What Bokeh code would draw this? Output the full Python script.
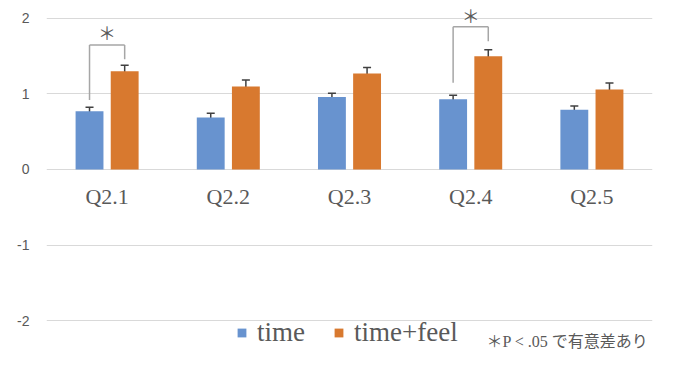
from bokeh.plotting import figure
from bokeh.models import (ColumnDataSource, FactorRange, Range1d, Whisker, TeeHead,
                          Legend, LegendItem, Label, FixedTicker)
from bokeh.transform import dodge
from bokeh.core.properties import value
from bokeh.embed import file_html
from bokeh.resources import INLINE

# ---- data ----
categories = ["Q2.1", "Q2.2", "Q2.3", "Q2.4", "Q2.5"]
time_mean = [0.77, 0.69, 0.96, 0.93, 0.79]
time_err = [0.055, 0.055, 0.05, 0.055, 0.05]
feel_mean = [1.30, 1.10, 1.27, 1.50, 1.06]
feel_err = [0.08, 0.085, 0.08, 0.085, 0.085]
y_ticks = [-2, -1, 0, 1, 2]
y_tick_labels = ["-2", "-1", "0", "1", "2"]

# significance annotations
sig_cats = ["Q2.1", "Q2.4"]
sig_top = [1.65, 1.89]
sig_left_bottom = [0.92, 1.15]
sig_right_bottom = [1.46, 1.70]
sig_star_y = [1.82, 2.04]
footnote = "＊P < .05 で有意差あり"

BLUE = "#6893cf"
ORANGE = "#d8792f"
GRAY_TXT = "#595959"
OFF = 0.145
BW = 0.23

src = ColumnDataSource(dict(
    cat=categories,
    t=time_mean, f=feel_mean,
    t_up=[m + e for m, e in zip(time_mean, time_err)],
    t_lo=[m - e for m, e in zip(time_mean, time_err)],
    f_up=[m + e for m, e in zip(feel_mean, feel_err)],
    f_lo=[m - e for m, e in zip(feel_mean, feel_err)],
    zero=[0] * len(categories),
))

p = figure(width=659, height=349, x_range=FactorRange(*categories),
           y_range=Range1d(-2.3841, 2.2384), output_backend="svg",
           toolbar_location=None, min_border_left=46, min_border_right=7,
           min_border_top=0, min_border_bottom=0)
p.outline_line_color = None
p.xaxis.visible = False
p.xgrid.grid_line_color = None
p.ygrid.grid_line_color = "#d9d9d9"
p.ygrid.grid_line_width = 1
p.yaxis.ticker = FixedTicker(ticks=y_ticks)
p.yaxis.major_label_overrides = {t: s for t, s in zip(y_ticks, y_tick_labels)}
p.yaxis.axis_line_color = None
p.yaxis.major_tick_line_color = None
p.yaxis.minor_tick_line_color = None
p.yaxis.major_tick_out = 0
p.yaxis.major_tick_in = 0
p.yaxis.major_label_standoff = 17
p.yaxis.major_label_text_font = "Liberation Sans"
p.yaxis.major_label_text_font_size = "14px"
p.yaxis.major_label_text_color = GRAY_TXT

r1 = p.vbar(x=dodge("cat", -OFF, range=p.x_range), top="t", width=BW, source=src,
            fill_color=BLUE, line_color=None)
r2 = p.vbar(x=dodge("cat", OFF, range=p.x_range), top="f", width=BW, source=src,
            fill_color=ORANGE, line_color=None)

for base_off, up, lo in [(-OFF, "t_up", "t_lo"), (OFF, "f_up", "f_lo")]:
    w = Whisker(base=dodge("cat", base_off, range=p.x_range), upper=up, lower=lo,
                source=src, line_color="#404040", line_width=1.5,
                upper_head=TeeHead(size=8, line_color="#404040", line_width=1.5),
                lower_head=TeeHead(size=8, line_color="#404040", line_width=1.5))
    p.add_layout(w)

# category labels next to the zero line
p.text(x="cat", y="zero", text="cat", source=src, text_align="center",
       text_baseline="top", y_offset=15, text_font=value("Liberation Serif"),
       text_font_size="22px", text_color=GRAY_TXT)

# significance brackets
sig = ColumnDataSource(dict(cat=sig_cats, top=sig_top, lb=sig_left_bottom,
                            rb=sig_right_bottom, sy=sig_star_y,
                            star=["＊"] * len(sig_cats)))
p.segment(x0=dodge("cat", -OFF, range=p.x_range), x1=dodge("cat", -OFF, range=p.x_range),
          y0="lb", y1="top", source=sig, line_color="#a6a6a6", line_width=1.5)
p.segment(x0=dodge("cat", OFF, range=p.x_range), x1=dodge("cat", OFF, range=p.x_range),
          y0="rb", y1="top", source=sig, line_color="#a6a6a6", line_width=1.5)
p.segment(x0=dodge("cat", -OFF, range=p.x_range), x1=dodge("cat", OFF, range=p.x_range),
          y0="top", y1="top", source=sig, line_color="#a6a6a6", line_width=1.5)
p.text(x="cat", y="sy", text="star", source=sig, text_align="center",
       text_baseline="middle", text_font=value("Noto Sans CJK JP"),
       text_font_size="18px", text_color=GRAY_TXT)

legend = Legend(items=[LegendItem(label="time", renderers=[r1]),
                       LegendItem(label="time+feel", renderers=[r2])],
                orientation="horizontal", location=(190, 1),
                glyph_width=11, glyph_height=11, label_standoff=10, spacing=28,
                padding=0, margin=0, border_line_alpha=0, background_fill_alpha=0,
                label_text_font="Liberation Serif", label_text_font_size="27px",
                label_text_color=GRAY_TXT)
p.add_layout(legend)

p.add_layout(Label(x=440, y=8, x_units="screen", y_units="screen", text=footnote,
                   text_font="Liberation Serif, Noto Sans CJK JP", text_font_size="16px",
                   text_color=GRAY_TXT, text_baseline="alphabetic"))

open("out.html", "w").write(file_html(p, INLINE))
